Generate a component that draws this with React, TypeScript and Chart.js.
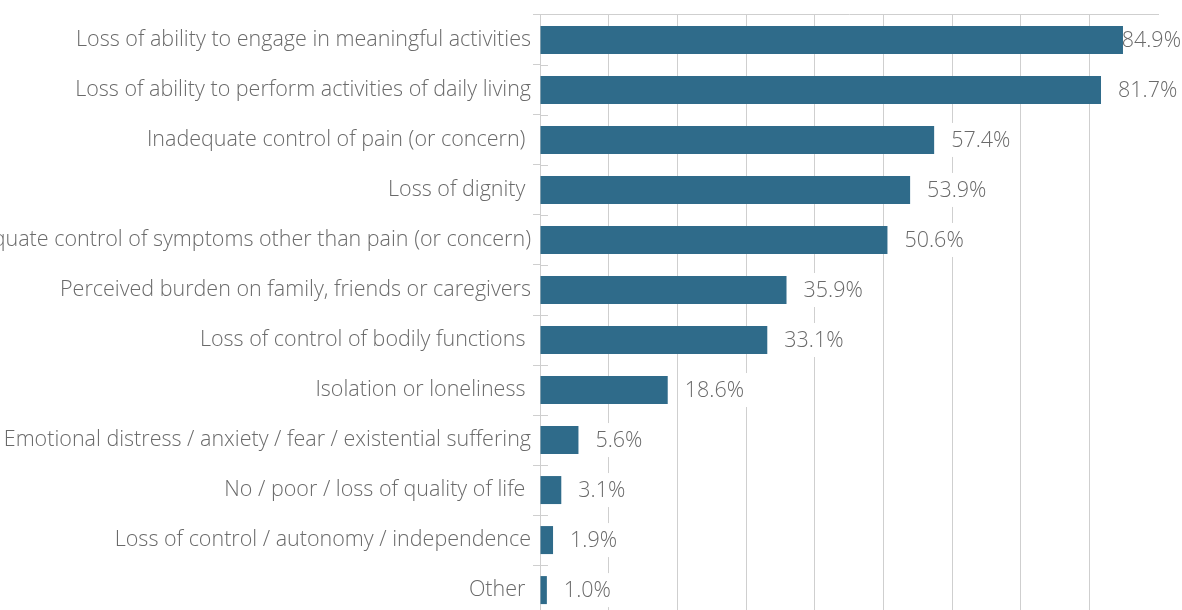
import { useEffect, useRef } from 'react';
import { Chart, registerables } from 'chart.js';

Chart.register(...registerables);

const categories = [
  'Loss of ability to engage in meaningful activities',
  'Loss of ability to perform activities of daily living',
  'Inadequate control of pain (or concern) ',
  'Loss of dignity ',
  'Inadequate control of symptoms other than pain (or concern)',
  'Perceived burden on family, friends or caregivers',
  'Loss of control of bodily functions ',
  'Isolation or loneliness ',
  'Emotional distress / anxiety / fear / existential suffering',
  'No / poor / loss of quality of life ',
  'Loss of control / autonomy / independence',
  'Other ',
];

const percentages = [84.9, 81.7, 57.4, 53.9, 50.6, 35.9, 33.1, 18.6, 5.6, 3.1, 1.9, 1.0];

const axisMin = 0;
const axisMax = 90;
const axisStep = 10;

const BAR_COLOR = '#2f6b8a';
const GRID = '#cfcfcf';
const TEXT = '#6a6a6a';
const FONT_FAMILY = '"Open Sans", "Liberation Sans", Arial, sans-serif';
const FONT_SIZE = 21.5;
const FONT_WEIGHT = 300;

const valueLabels = {
  id: 'valueLabels',
  beforeDatasetsDraw(chart: any) {
    const { ctx, chartArea } = chart;
    const n = categories.length;
    const band = (chartArea.bottom - chartArea.top) / n;
    ctx.save();
    ctx.strokeStyle = GRID;
    ctx.lineWidth = 1;
    for (let i = 1; i < n; i++) {
      const y = Math.round(chartArea.top + i * band) + 0.5;
      ctx.beginPath();
      ctx.moveTo(chartArea.left, y);
      ctx.lineTo(chartArea.left + 8, y);
      ctx.stroke();
    }
    ctx.restore();
  },
  afterDatasetsDraw(chart: any) {
    const ctx = chart.ctx;
    const meta = chart.getDatasetMeta(0);
    ctx.save();
    ctx.font = `${FONT_WEIGHT} ${FONT_SIZE}px ${FONT_FAMILY}`;
    ctx.textBaseline = 'middle';
    ctx.textAlign = 'left';
    meta.data.forEach((bar: any, i: number) => {
      const text = percentages[i].toFixed(1) + '%';
      const w = ctx.measureText(text).width;
      let x = bar.x + 17;
      if (x + w > chart.width - 1) x = chart.width - 1 - w;
      const bx = Math.max(x - 5, bar.x + 1);
      ctx.fillStyle = '#ffffff';
      ctx.fillRect(bx, bar.y - 17, x + w + 5 - bx, 34);
      ctx.fillStyle = TEXT;
      ctx.fillText(text, x, bar.y + 1);
    });
    ctx.restore();
  },
};

export default function App() {
  const canvasRef = useRef<HTMLCanvasElement | null>(null);

  useEffect(() => {
    if (!canvasRef.current) return;
    const chart = new Chart(canvasRef.current, {
      type: 'bar',
      data: {
        labels: categories,
        datasets: [
          {
            data: percentages,
            backgroundColor: BAR_COLOR,
            borderWidth: 0,
            barPercentage: 0.56,
            categoryPercentage: 1,
          },
        ],
      },
      options: {
        indexAxis: 'y',
        responsive: false,
        animation: false,
        layout: { padding: { left: 0, right: 24, top: 0, bottom: 14 } },
        plugins: {
          legend: { display: false },
          tooltip: { enabled: false },
        },
        scales: {
          x: {
            position: 'top',
            min: axisMin,
            max: axisMax,
            ticks: { display: false, stepSize: axisStep },
            grid: {
              drawTicks: false,
              color: (c: any) =>
                c.tick && (c.tick.value === axisMax || c.tick.value === axisMin) ? 'rgba(0,0,0,0)' : GRID,
            },
            border: { display: true, color: GRID },
            afterFit: (s: any) => {
              s.height = 14;
            },
          },
          y: {
            grid: { offset: true, drawOnChartArea: false, tickLength: 7, color: GRID },
            border: { display: true, color: GRID },
            ticks: {
              autoSkip: false,
              padding: 2,
              color: TEXT,
              font: { family: FONT_FAMILY, size: FONT_SIZE, weight: FONT_WEIGHT },
            },
            afterFit: (s: any) => {
              s.width = 540;
            },
          },
        },
      },
      plugins: [valueLabels],
    } as any);
    return () => chart.destroy();
  }, []);

  return (
    <div style={{ position: 'absolute', left: 0, top: 0, width: 1182, height: 610, overflow: 'hidden', background: '#fff' }}>
      <canvas ref={canvasRef} width={1182} height={630} style={{ display: 'block' }} />
    </div>
  );
}
